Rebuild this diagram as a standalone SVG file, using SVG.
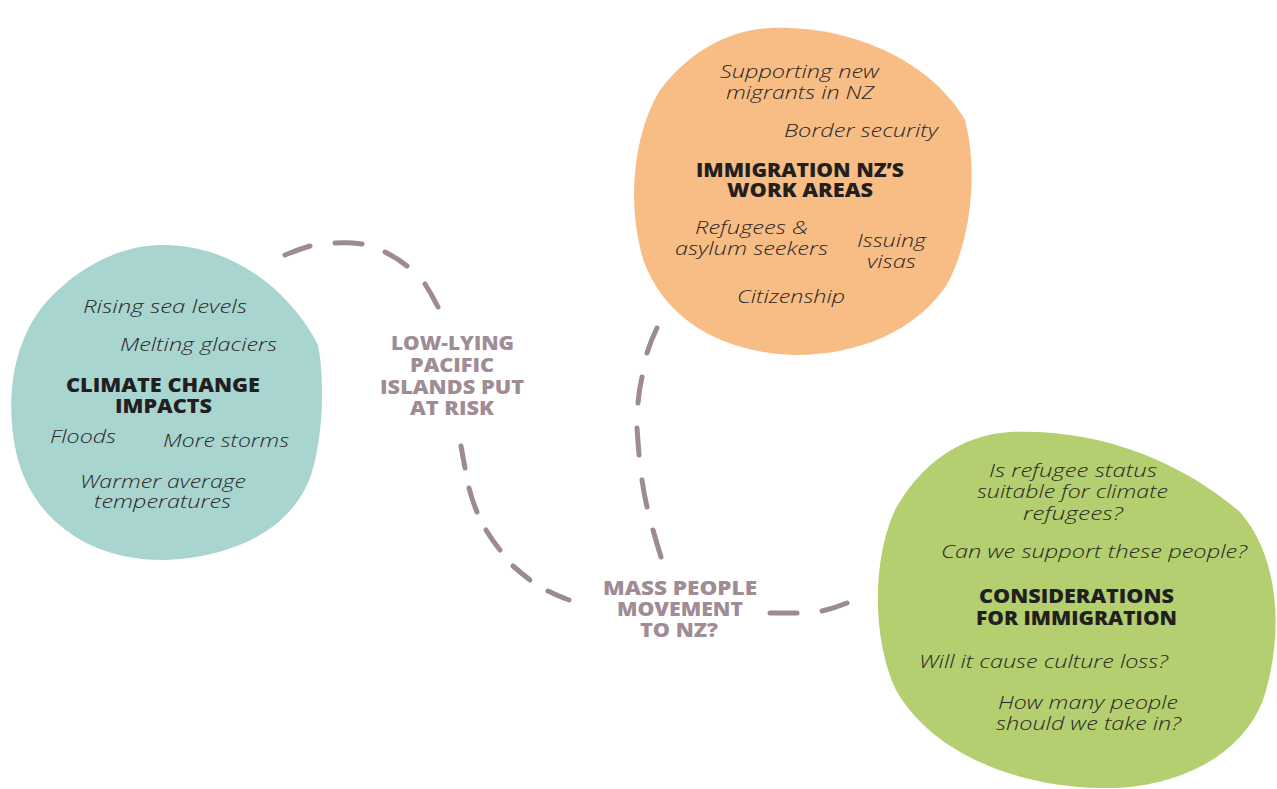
<svg xmlns="http://www.w3.org/2000/svg" width="1277" height="789" viewBox="0 0 1277 789">
<style>
.it{font-family:"Open Sans","Liberation Sans",sans-serif;font-style:italic;font-weight:300;font-size:18.5px;fill:#2a2526;text-anchor:middle}
.hd{font-family:"Open Sans","Liberation Sans",sans-serif;font-weight:800;font-size:18.5px;fill:#231f20;text-anchor:middle}
.lb{font-family:"Open Sans","Liberation Sans",sans-serif;font-weight:800;font-size:18.5px;fill:#a08c94;text-anchor:middle}
.d{fill:none;stroke:#9e8a92;stroke-width:5;stroke-linecap:round}
</style>
<rect width="1277" height="789" fill="#ffffff"/>
<g id="connectors">
<path class="d" d="M285 255 Q297 250 310 246"/>
<path class="d" d="M335 243 Q349 242 362 244"/>
<path class="d" d="M385 252 Q397 258 407 266"/>
<path class="d" d="M425 284 Q432 295 438 307"/>
<path class="d" d="M461 446 Q463 457 465 468"/>
<path class="d" d="M469 488 Q472 500 477 512"/>
<path class="d" d="M486 530 Q492 540 500 550"/>
<path class="d" d="M513 566 Q521 573 530 580"/>
<path class="d" d="M548 591 Q558 596 569 600"/>
<path class="d" d="M657 328 Q651 340 647 353"/>
<path class="d" d="M642 377 Q639 390 638 403"/>
<path class="d" d="M637 428 Q638 442 639 455"/>
<path class="d" d="M642 480 Q644 494 647 507"/>
<path class="d" d="M653 530 Q657 544 661 557"/>
<path class="d" d="M770 613 Q784 613 797 613"/>
<path class="d" d="M822 611 Q835 608 847 603"/>
</g>
<g id="climate">
<path fill="#a9d5d0" d="M160 245 C230 243 290 290 318 345 C325 380 323 440 311 475 C292 530 232 558 165 560 C92 561 32 522 16 452 C5 400 12 340 48 300 C80 266 120 246 160 245 Z"/>
<text class="it" x="165" y="313" textLength="164" lengthAdjust="spacingAndGlyphs">Rising sea levels</text>
<text class="it" x="198.5" y="351" textLength="157" lengthAdjust="spacingAndGlyphs">Melting glaciers</text>
<text class="hd" x="163" y="392" textLength="194" lengthAdjust="spacingAndGlyphs">CLIMATE CHANGE</text>
<text class="hd" x="163.5" y="413" textLength="97" lengthAdjust="spacingAndGlyphs">IMPACTS</text>
<text class="it" x="83" y="443" textLength="66" lengthAdjust="spacingAndGlyphs">Floods</text>
<text class="it" x="226" y="447" textLength="126" lengthAdjust="spacingAndGlyphs">More storms</text>
<text class="it" x="163" y="488" textLength="166" lengthAdjust="spacingAndGlyphs">Warmer average</text>
<text class="it" x="162.5" y="508" textLength="137" lengthAdjust="spacingAndGlyphs">temperatures</text>
</g>
<g id="immigration">
<path fill="#f7bd85" d="M770 28 C850 25 930 60 965 120 C978 170 972 240 946 286 C916 330 860 355 795 355 C722 353 666 320 644 262 C628 212 630 140 660 90 C690 50 730 30 770 28 Z"/>
<text class="it" x="799.5" y="78" textLength="159" lengthAdjust="spacingAndGlyphs">Supporting new</text>
<text class="it" x="800" y="99" textLength="148" lengthAdjust="spacingAndGlyphs">migrants in NZ</text>
<text class="it" x="861" y="137" textLength="154" lengthAdjust="spacingAndGlyphs">Border security</text>
<text class="hd" x="800" y="177" textLength="208" lengthAdjust="spacingAndGlyphs">IMMIGRATION NZ’S</text>
<text class="hd" x="800" y="197" textLength="146" lengthAdjust="spacingAndGlyphs">WORK AREAS</text>
<text class="it" x="751.5" y="234" textLength="113" lengthAdjust="spacingAndGlyphs">Refugees &amp;</text>
<text class="it" x="751.5" y="255" textLength="153" lengthAdjust="spacingAndGlyphs">asylum seekers</text>
<text class="it" x="891.5" y="247" textLength="69" lengthAdjust="spacingAndGlyphs">Issuing</text>
<text class="it" x="891.5" y="268" textLength="49" lengthAdjust="spacingAndGlyphs">visas</text>
<text class="it" x="791" y="303" textLength="108" lengthAdjust="spacingAndGlyphs">Citizenship</text>
</g>
<g id="considerations">
<path fill="#b3cf6f" d="M1010 432 C1100 428 1182 462 1240 512 C1282 560 1283 640 1263 700 C1240 760 1170 790 1100 788 C1010 786 930 750 896 690 C872 640 872 560 895 510 C920 465 960 435 1010 432 Z"/>
<text class="it" x="1073" y="477" textLength="168" lengthAdjust="spacingAndGlyphs">Is refugee status</text>
<text class="it" x="1072.5" y="498" textLength="191" lengthAdjust="spacingAndGlyphs">suitable for climate</text>
<text class="it" x="1073" y="520" textLength="100" lengthAdjust="spacingAndGlyphs">refugees?</text>
<text class="it" x="1094" y="558" textLength="306" lengthAdjust="spacingAndGlyphs">Can we support these people?</text>
<text class="hd" x="1076.5" y="603" textLength="195" lengthAdjust="spacingAndGlyphs">CONSIDERATIONS</text>
<text class="hd" x="1076.5" y="625" textLength="201" lengthAdjust="spacingAndGlyphs">FOR IMMIGRATION</text>
<text class="it" x="1043.5" y="668" textLength="249" lengthAdjust="spacingAndGlyphs">Will it cause culture loss?</text>
<text class="it" x="1088" y="709" textLength="180" lengthAdjust="spacingAndGlyphs">How many people</text>
<text class="it" x="1088.5" y="730" textLength="185" lengthAdjust="spacingAndGlyphs">should we take in?</text>
</g>
<g id="low-lying">
<text class="lb" x="452.5" y="350" textLength="123" lengthAdjust="spacingAndGlyphs">LOW-LYING</text>
<text class="lb" x="452" y="372" textLength="84" lengthAdjust="spacingAndGlyphs">PACIFIC</text>
<text class="lb" x="452" y="394" textLength="144" lengthAdjust="spacingAndGlyphs">ISLANDS PUT</text>
<text class="lb" x="452" y="415" textLength="84" lengthAdjust="spacingAndGlyphs">AT RISK</text>
</g>
<g id="mass-movement">
<text class="lb" x="680" y="595" textLength="154" lengthAdjust="spacingAndGlyphs">MASS PEOPLE</text>
<text class="lb" x="680" y="616" textLength="126" lengthAdjust="spacingAndGlyphs">MOVEMENT</text>
<text class="lb" x="679" y="637" textLength="78" lengthAdjust="spacingAndGlyphs">TO NZ?</text>
</g>
</svg>
